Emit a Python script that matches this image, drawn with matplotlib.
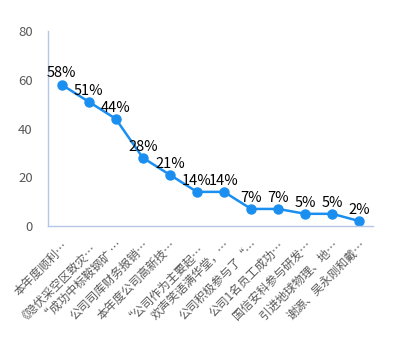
import matplotlib
matplotlib.use("Agg")
import matplotlib.pyplot as plt
import numpy as np

plt.rcParams['font.family'] = ['Noto Sans CJK SC', 'DejaVu Sans']

# categories (truncated labels as shown) and percentages
labels = ["本年度顺利…", "《隐伏采空区致灾…", "“成功中标鞍钢矿 …", "公司司库财务报销…",
          "本年度公司高新技…", "“公司作为主要起…", "欢声笑语满华堂，…", "公司积极参与了“…",
          "公司1名员工成功…", "国信安科参与研发…", "引进地球物理、地…", "谢源、吴永刚和戴…"]
values = [58, 51, 44, 28, 21, 14, 14, 7, 7, 5, 5, 2]
yticks = [0, 20, 40, 60, 80]

line_color = "#1b8ff0"
axis_color = "#b4c7e7"

fig = plt.figure(figsize=(3.94, 3.40), dpi=100)
ax = fig.add_axes([48/394, 1 - 226/340, (373-48)/394, (226-31)/340])

x = np.arange(len(values))
ax.plot(x, values, color=line_color, linewidth=1.8, marker="o",
        markersize=6.5, markerfacecolor=line_color, markeredgecolor=line_color)

for xi, v in zip(x, values):
    ax.annotate(f"{v}%", (xi, v), xytext=(0, 3), textcoords="offset points",
                ha="center", va="bottom", fontsize=10.5, color="black")

ax.set_xlim(-0.5, len(values) - 0.5)
ax.set_ylim(0, 80)
ax.set_yticks(yticks)
ax.set_yticklabels([str(t) for t in yticks], fontsize=9.5, color="#595959")
ax.set_xticks(x)
ax.set_xticklabels(labels, rotation=45, ha="right", rotation_mode="anchor",
                   fontsize=8.5, color="#595959")
ax.tick_params(axis="both", length=0)
ax.tick_params(axis="y", pad=11)
ax.tick_params(axis="x", pad=9)

for s in ["top", "right"]:
    ax.spines[s].set_visible(False)
for s in ["left", "bottom"]:
    ax.spines[s].set_color(axis_color)
    ax.spines[s].set_linewidth(1)

fig.savefig("out.png", dpi=100)
